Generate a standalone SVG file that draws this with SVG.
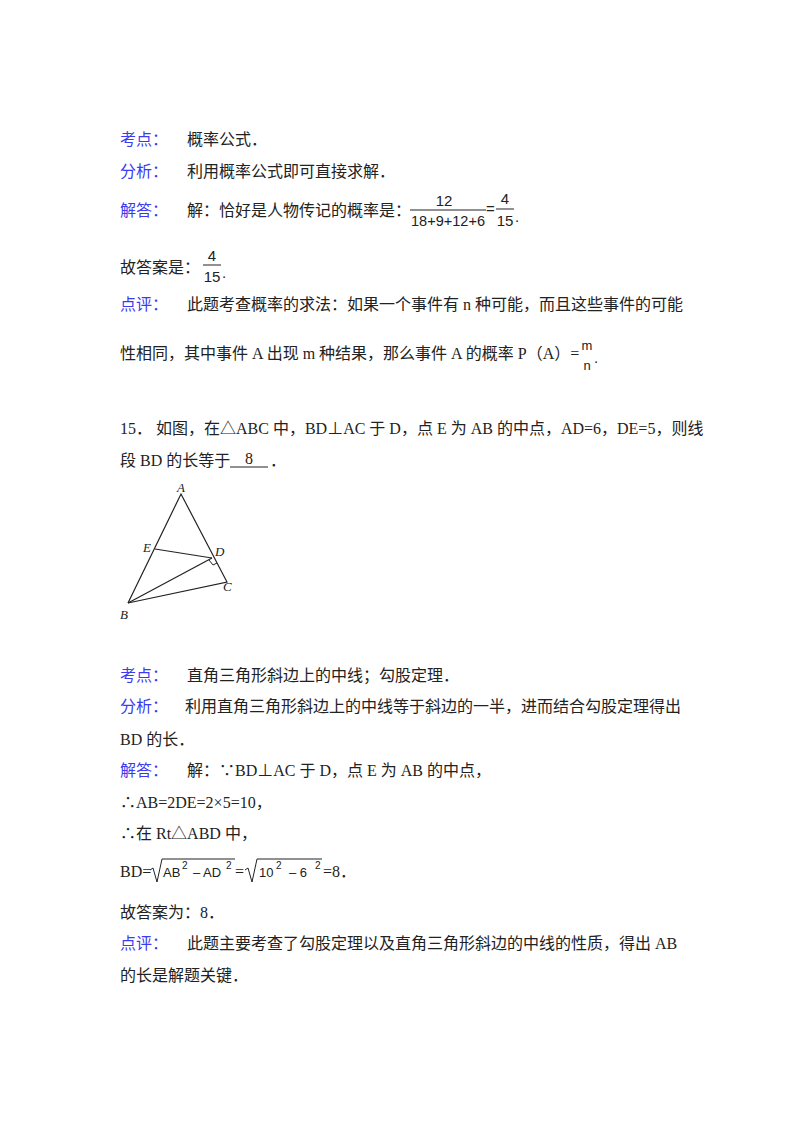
<svg xmlns="http://www.w3.org/2000/svg" width="800" height="1132" viewBox="0 0 800 1132">
<style>
text{font-family:"Liberation Serif","Noto Sans CJK SC",serif;font-size:16px;fill:#222}
.l{fill:#3b3bf0}
.s{font-size:15px;font-family:"Liberation Sans","Noto Sans CJK SC",sans-serif}
.g{font-style:italic;font-size:13px}
line,polyline{stroke:#222;stroke-width:1.2;fill:none}
</style>
<rect width="800" height="1132" fill="#fff"/>
<text class="l" x="120" y="145">考点：</text><text x="187" y="145">概率公式．</text>
<text class="l" x="120" y="177">分析：</text><text x="187" y="177">利用概率公式即可直接求解．</text>
<text class="l" x="120" y="216">解答：</text><text x="187" y="216">解：恰好是人物传记的概率是：</text>
<text class="s" x="444" y="206" text-anchor="middle">12</text>
<line x1="410" y1="210" x2="486" y2="210" style="stroke-width:1"/>
<text class="s" x="448" y="226" text-anchor="middle" textLength="74" lengthAdjust="spacingAndGlyphs">18+9+12+6</text>
<text class="s" x="486" y="214">=</text>
<text class="s" x="505" y="204" text-anchor="middle">4</text>
<line x1="496" y1="209" x2="514" y2="209" style="stroke-width:1"/>
<text class="s" x="505" y="226" text-anchor="middle">15</text><text class="s" x="515" y="222">.</text>
<text x="120" y="273">故答案是：</text>
<text class="s" x="212" y="261" text-anchor="middle">4</text>
<line x1="203" y1="265" x2="221" y2="265" style="stroke-width:1"/>
<text class="s" x="212" y="282" text-anchor="middle">15</text><text class="s" x="222" y="278">.</text>
<text class="l" x="120" y="310">点评：</text><text x="187" y="310">此题考查概率的求法：如果一个事件有 n 种可能，而且这些事件的可能</text>
<text x="120" y="359">性相同，其中事件 A 出现 m 种结果，那么事件 A 的概率 P（A）=</text>
<text class="s" x="587" y="350" text-anchor="middle" style="font-size:13px">m</text>
<text class="s" x="587" y="370" text-anchor="middle" style="font-size:13px">n</text><text class="s" x="594" y="363">.</text>
<text x="120" y="434">15．  如图，在△ABC 中，BD⊥AC 于 D，点 E 为 AB 的中点，AD=6，DE=5，则线</text>
<text x="120" y="466">段 BD 的长等于</text><text x="245" y="464">8</text>
<line x1="230" y1="467" x2="268" y2="467" style="stroke-width:1"/><text x="270" y="466">．</text>
<g id="figure">
<polyline points="128,603 181,494 227,582 128,603"/>
<line x1="155" y1="549" x2="212" y2="558"/>
<line x1="128" y1="603" x2="212" y2="558"/>
<polyline points="209,560 213,565 217,563" style="stroke-width:1"/>
<text class="g" x="177" y="492">A</text><text class="g" x="143" y="552">E</text><text class="g" x="215" y="556">D</text><text class="g" x="223" y="591">C</text><text class="g" x="120" y="619">B</text>
</g>
<text class="l" x="120" y="681">考点：</text><text x="187" y="681">直角三角形斜边上的中线；勾股定理．</text>
<text class="l" x="120" y="712">分析：</text><text x="185" y="712">利用直角三角形斜边上的中线等于斜边的一半，进而结合勾股定理得出</text>
<text x="120" y="745">BD 的长．</text>
<text class="l" x="120" y="776">解答：</text><text x="187" y="776">解：∵BD⊥AC 于 D，点 E 为 AB 的中点，</text>
<text x="120" y="808">∴AB=2DE=2×5=10，</text>
<text x="120" y="839">∴在 Rt△ABD 中，</text>
<text x="120" y="877">BD=</text>
<polyline points="150,870 153,868 157,882 162,859 235,859" style="stroke-width:1"/>
<text class="s" x="163" y="877" style="font-size:13px">AB</text><text class="s" x="182" y="869" style="font-size:10px">2</text><text class="s" x="193" y="877" style="font-size:13px">– AD</text><text class="s" x="226" y="869" style="font-size:10px">2</text>
<text x="235" y="877">=</text>
<polyline points="245,870 248,868 252,882 257,859 322,859" style="stroke-width:1"/>
<text class="s" x="259" y="877" style="font-size:13px">10</text><text class="s" x="276" y="869" style="font-size:10px">2</text><text class="s" x="289" y="877" style="font-size:13px">– 6</text><text class="s" x="315" y="869" style="font-size:10px">2</text>
<text x="323" y="877">=8．</text>
<text x="120" y="918">故答案为：8．</text>
<text class="l" x="120" y="949">点评：</text><text x="187" y="949">此题主要考查了勾股定理以及直角三角形斜边的中线的性质，得出 AB</text>
<text x="120" y="981">的长是解题关键．</text>
</svg>
